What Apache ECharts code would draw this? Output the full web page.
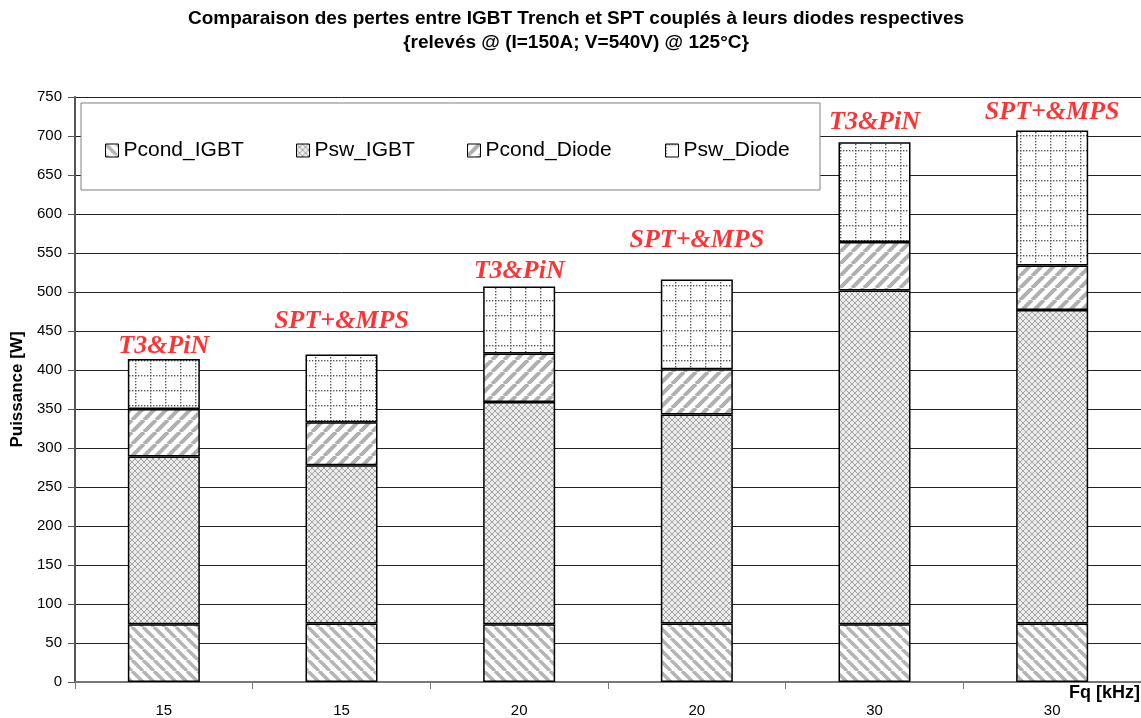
<!DOCTYPE html>
<html>
<head>
<meta charset="utf-8">
<script src="https://cdn.jsdelivr.net/npm/echarts@6/dist/echarts.min.js"></script>
<style>
html,body{margin:0;padding:0;background:#fff;}
#c{width:1141px;height:718px;}
</style>
</head>
<body>
<div id="c"></div>
<script>
// ---- data ----
const categories = ['15', '15', '20', '20', '30', '30'];
const pcondIGBT = [74, 75, 74, 75, 74, 75];
const pswIGBT = [215, 203, 285, 268, 428, 402];
const pcondDiode = [61, 55, 62, 58, 62, 57];
const pswDiode = [64, 87, 86, 115, 128, 173];
const annotations = ['T3&PiN', 'SPT+&MPS', 'T3&PiN', 'SPT+&MPS', 'T3&PiN', 'SPT+&MPS'];
const annotationHeights = [431, 462, 526, 566, 718, 730];
const yTicks = {min: 0, max: 750, interval: 50};

// ---- patterns ----
function mk(w, h, draw) {
  const c = document.createElement('canvas');
  c.width = w; c.height = h;
  const g = c.getContext('2d');
  g.fillStyle = '#fff'; g.fillRect(0, 0, w, h);
  draw(g, w, h);
  return {image: c, repeat: 'repeat'};
}
function stripes(dir, size, color, lw) {
  return mk(size, size, (g, w, h) => {
    g.strokeStyle = color; g.lineWidth = lw;
    for (let k = -1; k <= 1; k++) {
      g.beginPath();
      if (dir > 0) { g.moveTo(k * w, h); g.lineTo(k * w + w, 0); }
      else { g.moveTo(k * w, 0); g.lineTo(k * w + w, h); }
      g.stroke();
    }
  });
}
const patBack = stripes(-1, 11, '#b4b4b4', 3.5);
const patFwd = stripes(1, 12, '#b0b0b0', 4);
const patCross = mk(6, 6, (g, w, h) => {
  g.fillStyle = '#ececec'; g.fillRect(0, 0, w, h);
  g.strokeStyle = '#a4a4a4'; g.lineWidth = 1;
  for (let k = -1; k <= 1; k++) {
    g.beginPath(); g.moveTo(k * w, 0); g.lineTo(k * w + w, h); g.stroke();
    g.beginPath(); g.moveTo(k * w, h); g.lineTo(k * w + w, 0); g.stroke();
  }
});
const patDots = mk(15, 15, (g, w, h) => {
  g.fillStyle = '#5a5a5a';
  for (let i = 0; i < 15; i += 3) {
    g.fillRect(i, 0, 1.4, 1.4);
    g.fillRect(0, i, 1.4, 1.4);
  }
});

const chart = echarts.init(document.getElementById('c'), null, {renderer: 'canvas'});
const border = {borderColor: '#000', borderWidth: 1.5};
function barSeries(name, data, pat) {
  return {
    name: name, type: 'bar', stack: 'total', data: data, barWidth: 72,
    itemStyle: Object.assign({color: pat}, border),
    emphasis: {disabled: true}, z: 3
  };
}
function leg(name, left) {
  return {
    data: [name], left: left, top: 140, padding: 0, itemWidth: 13, itemHeight: 13, z: 6,
    icon: 'rect', itemStyle: {borderColor: '#000', borderWidth: 1},
    textStyle: {fontSize: 21, color: '#000', fontFamily: 'Liberation Sans, Arial, sans-serif'},
    selectedMode: false
  };
}

chart.setOption({
  animation: false,
  backgroundColor: '#fff',
  textStyle: {fontFamily: 'Liberation Sans, Arial, sans-serif'},
  title: {
    text: 'Comparaison des pertes entre IGBT Trench et SPT couplés à leurs diodes respectives\n{relevés @ (I=150A; V=540V) @ 125°C}',
    left: 576, top: 7, textAlign: 'center', padding: 0,
    textStyle: {fontSize: 19, fontWeight: 'bold', color: '#000', lineHeight: 24, fontFamily: 'Liberation Sans, Arial, sans-serif'}
  },
  legend: [leg('Pcond_IGBT', 105), leg('Psw_IGBT', 296), leg('Pcond_Diode', 467), leg('Psw_Diode', 665)],
  grid: {left: 75, top: 97, width: 1070, height: 587, containLabel: false},
  xAxis: {
    type: 'category', data: categories,
    axisLine: {lineStyle: {color: '#777', width: 2}},
    axisTick: {show: true, alignWithLabel: false, length: 7, lineStyle: {color: '#777'}},
    axisLabel: {fontSize: 15, color: '#000', margin: 21, interval: 0},
    splitLine: {show: false}
  },
  yAxis: {
    type: 'value', min: yTicks.min, max: yTicks.max, interval: yTicks.interval,
    name: 'Puissance [W]', nameLocation: 'middle', nameGap: 43, nameRotate: 90,
    nameTextStyle: {fontSize: 17, fontWeight: 'bold', color: '#000'},
    axisLine: {show: true, lineStyle: {color: '#555', width: 2}},
    axisTick: {show: true, length: 7, lineStyle: {color: '#555'}},
    axisLabel: {fontSize: 15, color: '#000', margin: 13},
    splitLine: {show: true, lineStyle: {color: '#222', width: 1}}
  },
  graphic: [
    {type: 'rect', shape: {x: 81, y: 103, width: 739, height: 87}, style: {fill: '#fff', stroke: '#808080', lineWidth: 1}, z: 1},
    {type: 'text', x: 1069, y: 684, style: {text: 'Fq [kHz]', font: 'bold 18px Liberation Sans, Arial, sans-serif', fill: '#000'}, z: 5}
  ],
  series: [
    barSeries('Pcond_IGBT', pcondIGBT, patBack),
    barSeries('Psw_IGBT', pswIGBT, patCross),
    barSeries('Pcond_Diode', pcondDiode, patFwd),
    barSeries('Psw_Diode', pswDiode, patDots),
    {
      type: 'scatter', data: annotationHeights, symbolSize: 0, silent: true, z: 5,
      label: {
        show: true, position: 'inside',
        formatter: p => annotations[p.dataIndex],
        fontSize: 26, fontWeight: 'bold', fontStyle: 'italic', color: '#ff0000',
        fontFamily: 'Liberation Serif, Times New Roman, serif'
      }
    }
  ]
});
</script>
</body>
</html>
